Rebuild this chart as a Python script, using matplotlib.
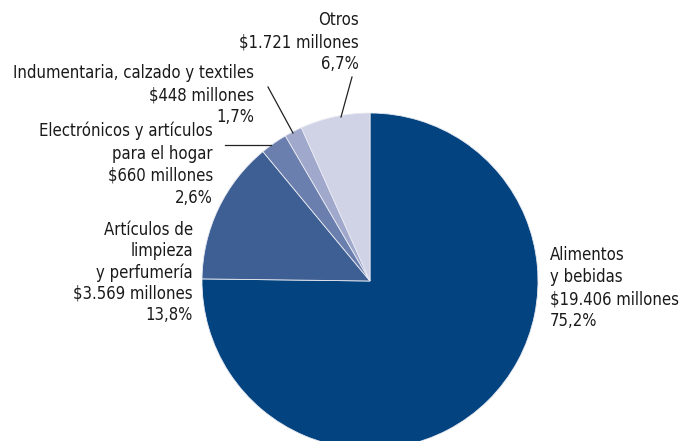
import matplotlib
matplotlib.use('Agg')
import matplotlib.pyplot as plt

# Ventas por rubro
categorias = ["Alimentos\ny bebidas",
              "Artículos de\nlimpieza\ny perfumería",
              "Electrónicos y artículos\npara el hogar",
              "Indumentaria, calzado y textiles",
              "Otros"]
montos = ["$19.406 millones", "$3.569 millones", "$660 millones",
          "$448 millones", "$1.721 millones"]
porcentajes = [75.2, 13.8, 2.6, 1.7, 6.7]
colores = ["#03437f", "#3e5f94", "#6a7fad", "#a0a8cc", "#d0d3e6"]

plt.rcParams['font.family'] = ['DejaVu Sans']
plt.rcParams['font.stretch'] = 'condensed'

W, H = 681, 441
fig = plt.figure(figsize=(W / 100, H / 100), dpi=100)
ax = fig.add_axes([0, 0, 1, 1])

cx, cy, r = 370, H - 281, 168
ax.pie(porcentajes, colors=colores, startangle=90, counterclock=False,
       center=(cx, cy), radius=r, frame=True,
       wedgeprops=dict(edgecolor='#e8eaf2', linewidth=0.6))
ax.set_xlim(0, W)
ax.set_ylim(0, H)
ax.set_aspect('equal')
ax.axis('off')


def etiqueta(i, x, y, ha, ls=1.29):
    texto = categorias[i] + "\n" + montos[i] + "\n" + f"{porcentajes[i]:.1f}%".replace(".", ",")
    ax.text(x, H - y, texto, ha=ha, va='top', fontsize=12.0, fontstretch='condensed',
            color='#1a1a1a', linespacing=ls, multialignment=ha)


etiqueta(4, 359, 11, 'right')
etiqueta(3, 254, 64, 'right')
etiqueta(2, 213, 122, 'right')
etiqueta(1, 193, 221, 'right', ls=1.22)
etiqueta(0, 550, 246, 'left')

# lineas guia
ax.plot([352, 341], [H - 77, H - 117], color='#222222', lw=0.9)
ax.plot([268, 293], [H - 87, H - 133], color='#222222', lw=0.9)
ax.plot([225, 271], [H - 145, H - 145], color='#222222', lw=0.9)

fig.savefig("out.png", dpi=100)
